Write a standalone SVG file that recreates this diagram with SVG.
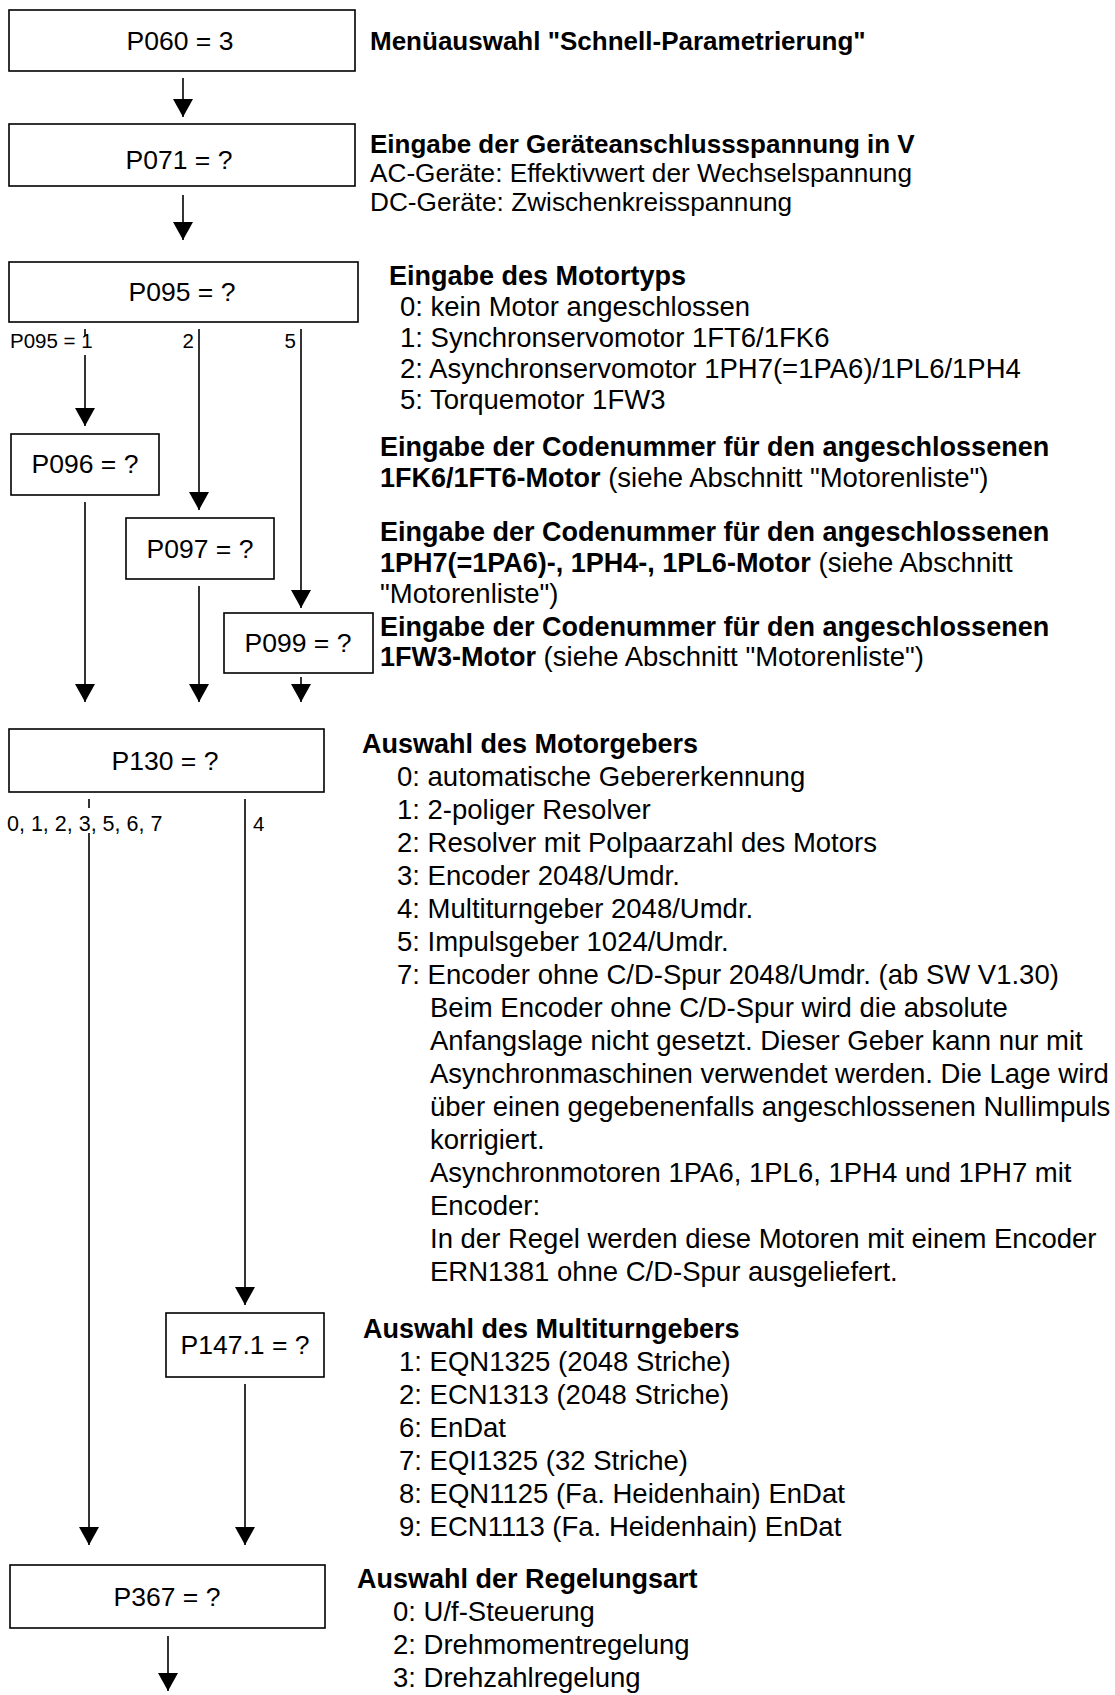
<svg xmlns="http://www.w3.org/2000/svg" width="1115" height="1695" viewBox="0 0 1115 1695">
  <style>
    .box { fill: #fff; stroke: #000; stroke-width: 1.6; }
    .bt { font-family: "Liberation Sans", Arial, sans-serif; font-size: 26.5px; fill: #000; text-anchor: middle; }
    .lbl { font-family: "Liberation Sans", Arial, sans-serif; font-size: 20.5px; fill: #000; }
    .wire { fill: none; stroke: #000; stroke-width: 1.6; }
    .txt { font-family: "Liberation Sans", Arial, sans-serif; font-size: 27.5px; fill: #000; }
    .top { font-size: 26.2px; }
    .b { font-weight: bold; font-size: 27px; }
    .top .b { font-size: 26px; }
  </style>
  <defs>
    <marker id="arrow" viewBox="0 0 18 20" refX="18" refY="10" markerWidth="18" markerHeight="20" markerUnits="userSpaceOnUse" orient="auto">
      <path d="M0,0 L18,10 L0,20 z" fill="#000"/>
    </marker>
  </defs>

  <!-- parameter boxes -->
  <g id="p060">
    <rect class="box" x="9" y="10" width="346" height="61"/>
    <text class="bt" x="180" y="50">P060 = 3</text>
  </g>
  <g id="p071">
    <rect class="box" x="9" y="124" width="346" height="62"/>
    <text class="bt" x="179" y="169">P071 = ?</text>
  </g>
  <g id="p095">
    <rect class="box" x="9" y="262" width="349" height="60"/>
    <text class="bt" x="182" y="301">P095 = ?</text>
  </g>
  <g id="p096">
    <rect class="box" x="11" y="434" width="148" height="61"/>
    <text class="bt" x="85" y="473">P096 = ?</text>
  </g>
  <g id="p097">
    <rect class="box" x="126" y="518" width="148" height="61"/>
    <text class="bt" x="200" y="558">P097 = ?</text>
  </g>
  <g id="p099">
    <rect class="box" x="224" y="613" width="149" height="60"/>
    <text class="bt" x="298" y="652">P099 = ?</text>
  </g>
  <g id="p130">
    <rect class="box" x="9" y="729" width="315" height="63"/>
    <text class="bt" x="165" y="770">P130 = ?</text>
  </g>
  <g id="p147_1">
    <rect class="box" x="166" y="1313" width="158" height="64"/>
    <text class="bt" x="245" y="1354">P147.1 = ?</text>
  </g>
  <g id="p367">
    <rect class="box" x="10" y="1565" width="315" height="63"/>
    <text class="bt" x="167" y="1606">P367 = ?</text>
  </g>

  <!-- connectors -->
  <g id="connectors">
    <line class="wire" x1="183" y1="78" x2="183" y2="117" marker-end="url(#arrow)"/>
    <line class="wire" x1="183" y1="195" x2="183" y2="240" marker-end="url(#arrow)"/>
    <line class="wire" x1="85" y1="329" x2="85" y2="336"/>
    <line class="wire" x1="85" y1="355" x2="85" y2="426" marker-end="url(#arrow)"/>
    <line class="wire" x1="199" y1="329" x2="199" y2="510" marker-end="url(#arrow)"/>
    <line class="wire" x1="301" y1="329" x2="301" y2="608" marker-end="url(#arrow)"/>
    <line class="wire" x1="85" y1="502" x2="85" y2="702" marker-end="url(#arrow)"/>
    <line class="wire" x1="199" y1="586" x2="199" y2="702" marker-end="url(#arrow)"/>
    <line class="wire" x1="301" y1="677" x2="301" y2="702" marker-end="url(#arrow)"/>
    <line class="wire" x1="89" y1="799" x2="89" y2="808"/>
    <line class="wire" x1="89" y1="833" x2="89" y2="1545" marker-end="url(#arrow)"/>
    <line class="wire" x1="245" y1="799" x2="245" y2="1305" marker-end="url(#arrow)"/>
    <line class="wire" x1="245" y1="1384" x2="245" y2="1545" marker-end="url(#arrow)"/>
    <line class="wire" x1="168" y1="1636" x2="168" y2="1691" marker-end="url(#arrow)"/>
    <!-- branch labels -->
    <text class="lbl" x="10" y="348">P095 = 1</text>
    <text class="lbl" x="194" y="348" text-anchor="end">2</text>
    <text class="lbl" x="296" y="348" text-anchor="end">5</text>
    <text class="lbl" x="7" y="831" style="font-size:21.5px">0, 1, 2, 3, 5, 6, 7</text>
    <text class="lbl" x="253" y="831">4</text>
  </g>

  <!-- descriptions -->
  <g id="descriptions" class="txt">
    <g class="top">
      <text class="b" x="370" y="50">Menüauswahl "Schnell-Parametrierung"</text>
      <text class="b" x="370" y="153">Eingabe der Geräteanschlussspannung in V</text>
      <text x="370" y="182">AC-Geräte: Effektivwert der Wechselspannung</text>
      <text x="370" y="211">DC-Geräte: Zwischenkreisspannung</text>
    </g>

    <text class="b" x="389" y="285">Eingabe des Motortyps</text>
    <text x="400" y="316">0: kein Motor angeschlossen</text>
    <text x="400" y="347">1: Synchronservomotor 1FT6/1FK6</text>
    <text x="400" y="378">2: Asynchronservomotor 1PH7(=1PA6)/1PL6/1PH4</text>
    <text x="400" y="409">5: Torquemotor 1FW3</text>

    <text class="b" x="380" y="456">Eingabe der Codenummer für den angeschlossenen</text>
    <text x="380" y="487"><tspan class="b">1FK6/1FT6-Motor</tspan> (siehe Abschnitt "Motorenliste")</text>

    <text class="b" x="380" y="541">Eingabe der Codenummer für den angeschlossenen</text>
    <text x="380" y="572"><tspan class="b">1PH7(=1PA6)-, 1PH4-, 1PL6-Motor</tspan> (siehe Abschnitt</text>
    <text x="380" y="603">"Motorenliste")</text>
    <text class="b" x="380" y="636">Eingabe der Codenummer für den angeschlossenen</text>
    <text x="380" y="666"><tspan class="b">1FW3-Motor</tspan> (siehe Abschnitt "Motorenliste")</text>

    <text class="b" x="362" y="753">Auswahl des Motorgebers</text>
    <text x="397" y="786">0: automatische Gebererkennung</text>
    <text x="397" y="819">1: 2-poliger Resolver</text>
    <text x="397" y="852">2: Resolver mit Polpaarzahl des Motors</text>
    <text x="397" y="885">3: Encoder 2048/Umdr.</text>
    <text x="397" y="918">4: Multiturngeber 2048/Umdr.</text>
    <text x="397" y="951">5: Impulsgeber 1024/Umdr.</text>
    <text x="397" y="984">7: Encoder ohne C/D-Spur 2048/Umdr. (ab SW V1.30)</text>
    <text x="430" y="1017">Beim Encoder ohne C/D-Spur wird die absolute</text>
    <text x="430" y="1050">Anfangslage nicht gesetzt. Dieser Geber kann nur mit</text>
    <text x="430" y="1083">Asynchronmaschinen verwendet werden. Die Lage wird</text>
    <text x="430" y="1116">über einen gegebenenfalls angeschlossenen Nullimpuls</text>
    <text x="430" y="1149">korrigiert.</text>
    <text x="430" y="1182">Asynchronmotoren 1PA6, 1PL6, 1PH4 und 1PH7 mit</text>
    <text x="430" y="1215">Encoder:</text>
    <text x="430" y="1248">In der Regel werden diese Motoren mit einem Encoder</text>
    <text x="430" y="1281">ERN1381 ohne C/D-Spur ausgeliefert.</text>

    <text class="b" x="363" y="1338">Auswahl des Multiturngebers</text>
    <text x="399" y="1371">1: EQN1325 (2048 Striche)</text>
    <text x="399" y="1404">2: ECN1313 (2048 Striche)</text>
    <text x="399" y="1437">6: EnDat</text>
    <text x="399" y="1470">7: EQI1325 (32 Striche)</text>
    <text x="399" y="1503">8: EQN1125 (Fa. Heidenhain) EnDat</text>
    <text x="399" y="1536">9: ECN1113 (Fa. Heidenhain) EnDat</text>

    <text class="b" x="357" y="1588">Auswahl der Regelungsart</text>
    <text x="393" y="1621">0: U/f-Steuerung</text>
    <text x="393" y="1654">2: Drehmomentregelung</text>
    <text x="393" y="1687">3: Drehzahlregelung</text>
  </g>
</svg>
